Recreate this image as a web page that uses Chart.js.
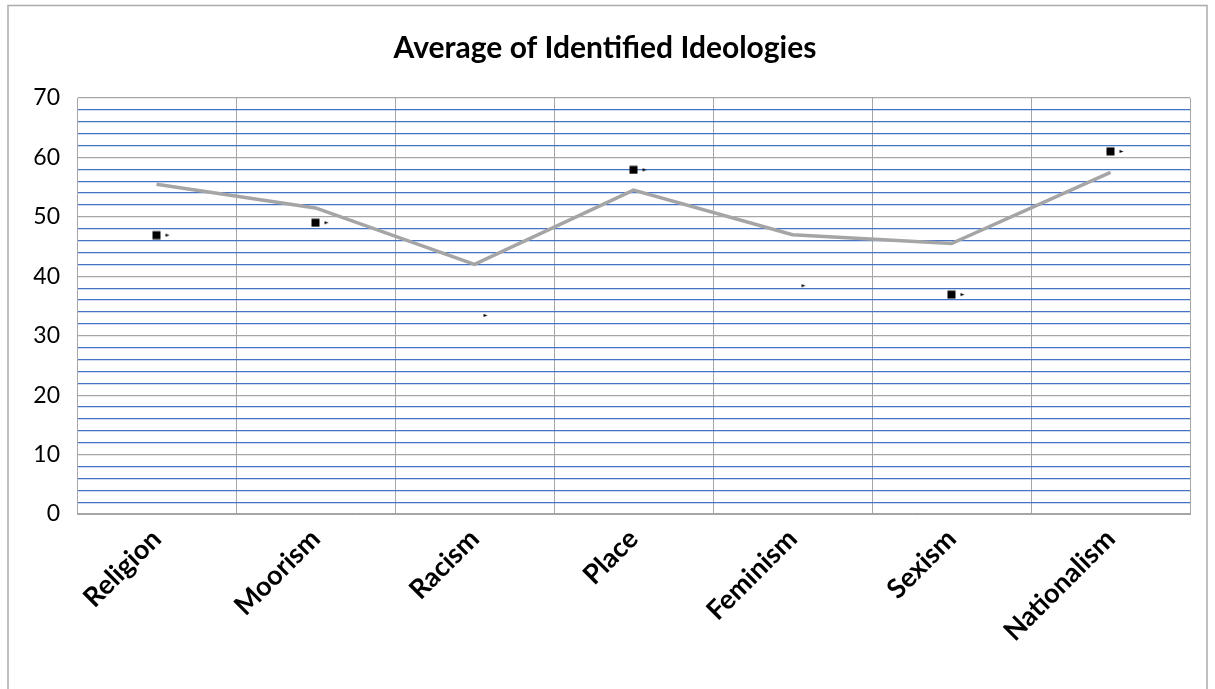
<!DOCTYPE html>
<html>
<head>
<meta charset="utf-8">
<script src="https://cdn.jsdelivr.net/npm/chart.js@4"></script>
<style>
html,body{margin:0;padding:0;background:#fff;}
#wrap{width:1215px;height:689px;position:relative;}
</style>
</head>
<body>
<div id="wrap"><canvas id="c" width="1215" height="689"></canvas></div>
<script>
const categories = ['Religion','Moorism','Racism','Place','Feminism','Sexism','Nationalism'];
const averageValues = [55.5, 51.5, 42, 54.5, 47, 45.5, 57.5];
const markerValues = [47, 49.1, 33.5, 58, 38.5, 37, 61.1];
const markerHasSquare = [true, true, false, true, false, true, true];
const yTickLabels = [0, 10, 20, 30, 40, 50, 60, 70];

function makeMarker(withSquare){
  const cv = document.createElement('canvas');
  cv.width = 32; cv.height = 10;
  const g = cv.getContext('2d');
  g.fillStyle = '#000';
  if (withSquare) g.fillRect(12, 1.5, 8, 8);
  g.beginPath();
  g.moveTo(25, 4); g.lineTo(29, 5.5); g.lineTo(25, 7); g.closePath();
  g.fill();
  return cv;
}
const markerStyles = markerHasSquare.map(makeMarker);

const borderPlugin = {
  id: 'outerBorder',
  beforeDraw(chart){
    const ctx = chart.ctx;
    ctx.save();
    ctx.fillStyle = '#fff';
    ctx.fillRect(0,0,chart.width,chart.height);
    ctx.strokeStyle = '#ABABAB';
    ctx.lineWidth = 1.5;
    ctx.strokeRect(8, 5.5, 1199, 700);
    ctx.restore();
  }
};

new Chart(document.getElementById('c'), {
  type: 'line',
  data: {
    labels: categories,
    datasets: [
      {
        label: 'Average',
        data: averageValues,
        borderColor: '#A5A5A5',
        borderWidth: 3.5,
        pointRadius: 0,
        tension: 0,
        order: 2
      },
      {
        label: 'Points',
        data: markerValues,
        showLine: false,
        pointStyle: markerStyles,
        pointRadius: 5,
        order: 1
      }
    ]
  },
  options: {
    responsive: false,
    animation: false,
    events: [],
    layout: { padding: { left: 20, right: 25, top: 0, bottom: 8 } },
    plugins: {
      legend: { display: false },
      tooltip: { enabled: false },
      title: {
        display: true,
        text: 'Average of Identified Ideologies',
        color: '#000',
        font: { family: 'Lato', size: 30, weight: 'bold' },
        padding: { top: 30, bottom: 32 }
      }
    },
    scales: {
      x: {
        offset: true,
        grid: { offset: true, color: '#A6A6A6', lineWidth: 1, drawTicks: false },
        border: { color: '#A6A6A6', width: 1 },
        ticks: {
          color: '#000',
          font: { family: 'Lato', size: 27, weight: 'bold' },
          minRotation: 45, maxRotation: 45,
          padding: 9
        },
        afterFit(axis){ axis.height = 689 - 514 - 8; }
      },
      y: {
        min: 0, max: 70,
        grid: {
          drawTicks: false,
          color: ctx => (ctx.tick && ctx.tick.value % 10 === 0) ? '#A6A6A6' : '#4472C4',
          lineWidth: 1.2
        },
        border: { color: '#A6A6A6', width: 1 },
        ticks: {
          stepSize: 2,
          autoSkip: false,
          color: '#000',
          font: { family: 'Lato', size: 23 },
          padding: 17,
          callback: v => yTickLabels.includes(v) ? String(v) : ''
        },
        afterFit(axis){ axis.width = 57; }
      }
    }
  },
  plugins: [borderPlugin]
});
</script>
</body>
</html>
